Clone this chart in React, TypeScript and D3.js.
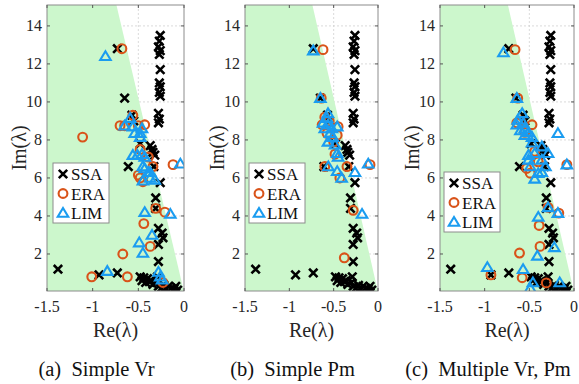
import React, { useEffect, useRef } from "react"
import * as d3 from "d3"

// eigenvalues (Re, Im)
const ssa: [number, number][] = [
  [-0.26, 13.5], [-0.27, 13.2], [-0.28, 12.9], [-0.26, 12.7], [-0.27, 12.5],
  [-0.26, 11.7], [-0.27, 11.0], [-0.26, 10.8], [-0.27, 10.5], [-0.26, 10.3],
  [-0.28, 9.4], [-0.27, 9.1], [-0.28, 8.9],
  [-0.73, 12.8], [-0.65, 10.2], [-0.57, 9.3], [-0.55, 9.0], [-0.48, 7.8],
  [-0.37, 7.7], [-0.35, 7.5], [-0.34, 7.35], [-0.32, 7.2], [-0.61, 6.6], [-0.33, 6.6],
  [-0.26, 5.75], [-0.31, 4.95], [-0.31, 4.4], [-0.28, 3.35], [-0.24, 3.1],
  [-0.23, 2.85], [-0.28, 2.5], [-0.28, 1.6], [-1.38, 1.2], [-0.93, 0.9], [-0.73, 1.0],
  [-0.48, 0.8], [-0.46, 0.6], [-0.44, 0.75], [-0.42, 0.5], [-0.40, 0.7], [-0.38, 0.55],
  [-0.36, 0.6], [-0.34, 0.4], [-0.29, 0.8], [-0.30, 0.5], [-0.28, 0.3], [-0.25, 0.2],
  [-0.22, 0.35], [-0.20, 0.15], [-0.17, 0.3], [-0.14, 0.2], [-0.11, 0.15], [-0.09, 0.3],
  [-0.07, 0.1],
]

const eraA: [number, number][] = [
  [-0.68, 12.8], [-0.56, 9.3], [-0.70, 8.75], [-0.65, 8.75], [-0.50, 8.75], [-0.43, 8.8],
  [-1.11, 8.15], [-0.48, 7.5], [-0.39, 7.1], [-0.34, 6.6], [-0.12, 6.7], [-0.50, 6.15],
  [-0.48, 6.0], [-0.45, 5.8], [-0.31, 4.4], [-0.21, 4.2], [-0.44, 3.6], [-0.37, 2.4],
  [-0.67, 2.0], [-1.01, 0.8], [-0.62, 0.8], [-0.23, 0.5],
]
const limA: [number, number][] = [
  [-0.86, 12.4], [-0.59, 9.15], [-0.65, 8.75], [-0.56, 8.7], [-0.46, 8.6], [-0.54, 8.35],
  [-0.48, 8.35], [-0.48, 8.15], [-0.56, 7.2], [-0.51, 7.2], [-0.46, 7.25], [-0.43, 7.1],
  [-0.45, 6.6], [-0.43, 6.5], [-0.37, 6.3], [-0.04, 6.75], [-0.39, 6.3], [-0.45, 5.85],
  [-0.37, 6.0], [-0.32, 5.9], [-0.43, 4.2], [-0.15, 4.1], [-0.35, 3.0], [-0.49, 2.6],
  [-0.45, 2.05], [-0.84, 1.1], [-0.28, 1.05], [-0.26, 0.8], [-0.24, 0.65],
]

const eraB: [number, number][] = [
  [-0.62, 12.75], [-0.64, 10.2], [-0.63, 8.8], [-0.45, 8.7], [-0.575, 8.35], [-0.46, 8.25],
  [-0.60, 9.2], [-0.55, 9.0], [-0.50, 7.9], [-0.485, 7.25], [-0.60, 6.6], [-0.35, 6.6],
  [-0.43, 6.0], [-0.09, 6.7], [-0.28, 4.3], [-0.38, 1.8],
]
const limB: [number, number][] = [
  [-0.73, 12.7], [-0.65, 10.2], [-0.564, 9.4], [-0.575, 9.15], [-0.62, 8.9], [-0.564, 8.8],
  [-0.60, 8.6], [-0.52, 8.6], [-0.46, 8.7], [-0.54, 8.35], [-0.51, 8.15], [-0.564, 7.9],
  [-0.485, 7.75], [-0.46, 7.3], [-0.45, 7.1], [-0.56, 6.6], [-0.46, 6.35], [-0.41, 6.0],
  [-0.26, 6.3], [-0.11, 6.75], [-0.18, 4.1],
]

const eraC: [number, number][] = [
  [-0.66, 12.75], [-0.63, 10.2], [-0.64, 8.9], [-0.47, 8.8], [-0.55, 8.4], [-0.60, 9.0],
  [-0.44, 7.4], [-0.40, 6.85], [-0.53, 6.5], [-0.49, 6.25], [-0.08, 6.7], [-0.29, 4.45],
  [-0.17, 4.15], [-0.39, 3.5], [-0.38, 2.4], [-0.61, 2.05], [-0.93, 0.9], [-0.58, 0.75],
  [-0.31, 0.48],
]
const limC: [number, number][] = [
  [-0.79, 12.6], [-0.64, 10.2], [-0.58, 9.4], [-0.63, 9.05], [-0.64, 8.8], [-0.57, 8.9],
  [-0.55, 8.6], [-0.60, 8.5], [-0.51, 8.4], [-0.47, 8.15], [-0.55, 8.25], [-0.47, 7.85],
  [-0.36, 7.65], [-0.44, 7.3], [-0.29, 7.3], [-0.51, 6.95], [-0.36, 6.95], [-0.51, 7.2],
  [-0.32, 6.6], [-0.49, 6.6], [-0.40, 6.25], [-0.36, 6.3], [-0.44, 5.95], [-0.08, 6.7],
  [-0.18, 8.35], [-0.29, 4.45], [-0.18, 4.15], [-0.40, 3.95], [-0.22, 2.35], [-0.41, 1.9],
  [-0.97, 1.3], [-0.57, 1.2], [-0.46, 0.5], [-0.49, 0.2], [-0.16, 0.5],
]

const xTicks = [-1.5, -1, -0.5, 0]
const yTicks = [2, 4, 6, 8, 10, 12, 14]
const seriesNames = ["SSA", "ERA", "LIM"]
const captions = ["(a)\u00a0\u00a0Simple Vr", "(b)\u00a0\u00a0Simple Pm", "(c)\u00a0\u00a0Multiple Vr, Pm"]
// 5% damping boundary: Re = -zeta * Im
const zeta = 0.049

const ORANGE = "#D95319"
const BLUE = "#1A9CF0"
const FONT = "Liberation Serif, DejaVu Serif, serif"

const panels = [
  { left: 47, right: 184, legendX: 53, legendY: 163, era: eraA, lim: limA },
  { left: 245, right: 378, legendX: 249, legendY: 163, era: eraB, lim: limB },
  { left: 440, right: 574, legendX: 444, legendY: 172, era: eraC, lim: limC },
]
const top = 5
const bottom = 291

function drawMarker(g: any, kind: string, cx: number, cy: number) {
  if (kind === "SSA") {
    const s = 4.2
    g.append("path")
      .attr("d", `M${cx - s},${cy - s}L${cx + s},${cy + s}M${cx - s},${cy + s}L${cx + s},${cy - s}`)
      .attr("stroke", "black")
      .attr("stroke-width", 2.6)
      .attr("fill", "none")
  } else if (kind === "ERA") {
    g.append("circle")
      .attr("cx", cx)
      .attr("cy", cy)
      .attr("r", 4.4)
      .attr("fill", "none")
      .attr("stroke", ORANGE)
      .attr("stroke-width", 2.1)
  } else {
    const h = 5
    g.append("path")
      .attr("d", `M${cx},${cy - h}L${cx + h * 1.05},${cy + h * 0.75}L${cx - h * 1.05},${cy + h * 0.75}Z`)
      .attr("fill", "none")
      .attr("stroke", BLUE)
      .attr("stroke-width", 2.1)
  }
}

export default function App() {
  const ref = useRef<SVGSVGElement>(null)

  useEffect(() => {
    const svg = d3.select(ref.current)
    svg.selectAll("*").remove()

    panels.forEach((p, i) => {
      const x = d3.scaleLinear().domain([-1.5, 0]).range([p.left, p.right])
      const y = d3.scaleLinear().domain([0, 15.1]).range([bottom + 1, top])
      const g = svg.append("g").attr("font-family", FONT)
      const clipId = "clip" + i
      g.append("clipPath")
        .attr("id", clipId)
        .append("rect")
        .attr("x", p.left)
        .attr("y", top)
        .attr("width", p.right - p.left)
        .attr("height", bottom - top)

      g.append("rect")
        .attr("x", p.left)
        .attr("y", top)
        .attr("width", p.right - p.left)
        .attr("height", bottom - top)
        .attr("fill", "white")

      // grid
      xTicks.slice(1, -1).forEach(t => {
        g.append("line")
          .attr("x1", x(t)).attr("x2", x(t))
          .attr("y1", top).attr("y2", bottom)
          .attr("stroke", "#d0d0d0").attr("stroke-dasharray", "2,2").attr("stroke-width", 0.8)
      })
      yTicks.forEach(t => {
        g.append("line")
          .attr("x1", p.left).attr("x2", p.right)
          .attr("y1", y(t)).attr("y2", y(t))
          .attr("stroke", "#d0d0d0").attr("stroke-dasharray", "2,2").attr("stroke-width", 0.8)
      })

      // stable region (damping > 5%)
      const poly: [number, number][] = [
        [-1.5, 0], [-1.5, 15.1], [-zeta * 15.1, 15.1], [0, 0],
      ]
      g.append("path")
        .attr("d", "M" + poly.map(d => x(d[0]) + "," + y(d[1])).join("L") + "Z")
        .attr("fill", "#CCF7CC")
        .attr("clip-path", `url(#${clipId})`)

      // markers
      const mg = g.append("g").attr("clip-path", `url(#${clipId})`)
      ssa.forEach(d => drawMarker(mg, "SSA", x(d[0]), y(d[1])))
      p.era.forEach(d => drawMarker(mg, "ERA", x(d[0]), y(d[1])))
      p.lim.forEach(d => drawMarker(mg, "LIM", x(d[0]), y(d[1])))

      // box and ticks
      g.append("rect")
        .attr("x", p.left)
        .attr("y", top)
        .attr("width", p.right - p.left)
        .attr("height", bottom - top)
        .attr("fill", "none")
        .attr("stroke", "#8c8c8c")
        .attr("stroke-width", 1)
      xTicks.forEach(t => {
        g.append("line").attr("x1", x(t)).attr("x2", x(t)).attr("y1", bottom).attr("y2", bottom - 3).attr("stroke", "#555")
        g.append("line").attr("x1", x(t)).attr("x2", x(t)).attr("y1", top).attr("y2", top + 3).attr("stroke", "#555")
        g.append("text")
          .attr("x", x(t))
          .attr("y", bottom + 21)
          .attr("text-anchor", "middle")
          .attr("font-size", 16)
          .attr("fill", "#262626")
          .text(t === 0 ? "0" : String(t))
      })
      yTicks.forEach(t => {
        g.append("line").attr("x1", p.left).attr("x2", p.left + 3).attr("y1", y(t)).attr("y2", y(t)).attr("stroke", "#555")
        g.append("line").attr("x1", p.right).attr("x2", p.right - 3).attr("y1", y(t)).attr("y2", y(t)).attr("stroke", "#555")
        g.append("text")
          .attr("x", p.left - 5)
          .attr("y", y(t) + 5)
          .attr("text-anchor", "end")
          .attr("font-size", 16)
          .attr("fill", "#262626")
          .text(String(t))
      })

      // axis labels
      const cx = (p.left + p.right) / 2
      g.append("text")
        .attr("x", cx)
        .attr("y", bottom + 46)
        .attr("text-anchor", "middle")
        .attr("font-size", 20)
        .attr("fill", "#262626")
        .text("Re(λ)")
      g.append("text")
        .attr("transform", `translate(${p.left - 21},${(top + bottom) / 2}) rotate(-90)`)
        .attr("text-anchor", "middle")
        .attr("font-size", 20)
        .attr("fill", "#262626")
        .text("Im(λ)")
      g.append("text")
        .attr("x", cx - 19)
        .attr("y", 376)
        .attr("text-anchor", "middle")
        .attr("font-size", 20.5)
        .attr("fill", "#111")
        .text(captions[i])

      // legend
      const lg = g.append("g")
      lg.append("rect")
        .attr("x", p.legendX)
        .attr("y", p.legendY)
        .attr("width", 56)
        .attr("height", 60)
        .attr("fill", "white")
        .attr("stroke", "#8c8c8c")
      seriesNames.forEach((name, j) => {
        const ly = p.legendY + 11 + j * 19.5
        drawMarker(lg, name, p.legendX + 10, ly)
        lg.append("text")
          .attr("x", p.legendX + 18)
          .attr("y", ly + 6)
          .attr("font-size", 17)
          .attr("fill", "#111")
          .text(name)
      })
    })
  }, [])

  return (
    <div style={{ position: "absolute", left: 0, top: 0 }}>
      <svg ref={ref} width={579} height={384} style={{ display: "block", background: "white" }}></svg>
    </div>
  )
}
